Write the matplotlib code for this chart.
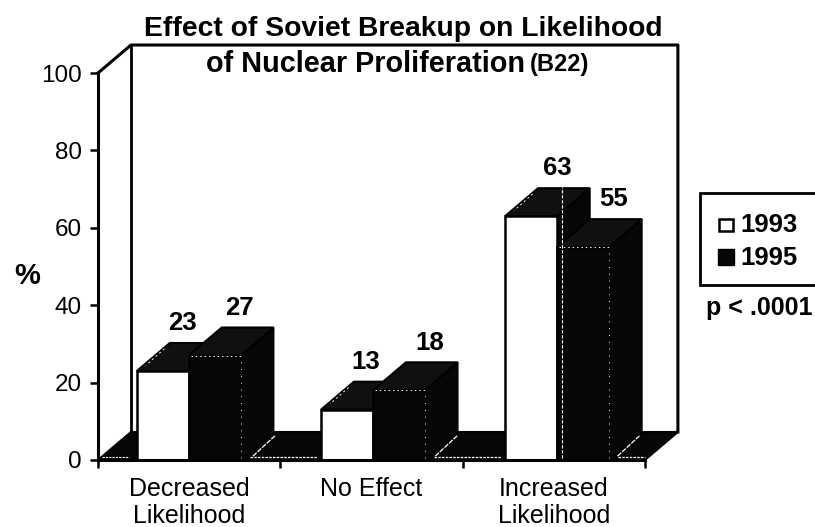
import numpy as np
import matplotlib
matplotlib.use('Agg')
import matplotlib.pyplot as plt
from matplotlib.patches import Polygon, Rectangle

categories = ['Decreased\nLikelihood', 'No Effect', 'Increased\nLikelihood']
values_1993 = [23, 13, 63]
values_1995 = [27, 18, 55]
yticks = [0, 20, 40, 60, 80, 100]

plt.rcParams['font.family'] = ['Liberation Sans', 'DejaVu Sans']

# one x unit = one category slot, one y unit = 1 %
px_x = 182.3
px_y = 3.87
depth_x = 33 / px_x
depth_y = 28 / px_y
bar_w = 0.285
bar_off = 0.213
dark = '#060606'
# label nudges, the originals were placed by hand
nudge_1993 = [0.11, 0.105, 0.145]
nudge_1995 = [0.135, 0.17, 0.17]

fig = plt.figure(figsize=(8.15, 5.27), dpi=100)
ax = fig.add_axes([0, 0, 1, 1])
ax.set_xlim(-98 / px_x, (815 - 98) / px_x)
ax.set_ylim((460 - 527) / px_y, 460 / px_y)
ax.patch.set_visible(False)


def bar3d(x, h, front):
    # side and top first, then the front face
    ax.add_patch(Polygon([(x + bar_w, 0), (x + bar_w + depth_x, depth_y),
                          (x + bar_w + depth_x, h + depth_y), (x + bar_w, h)],
                         fc=dark, ec='black', lw=1, zorder=3))
    ax.add_patch(Polygon([(x, h), (x + bar_w, h), (x + bar_w + depth_x, h + depth_y),
                          (x + depth_x, h + depth_y)],
                         fc='#101010', ec='black', lw=1.5, zorder=3))
    ax.add_patch(Rectangle((x, 0), bar_w, h, fc=front, ec='black', lw=1.8, zorder=3))


# back wall and floor
ax.plot([0, depth_x, 3 + depth_x, 3 + depth_x], [100, 100 + depth_y, 100 + depth_y, depth_y],
        color='black', lw=2.2, zorder=2)
ax.plot([depth_x, depth_x], [100 + depth_y, depth_y], color='black', lw=2, zorder=2)
ax.add_patch(Polygon([(0, 0), (3, 0), (3 + depth_x, depth_y), (depth_x, depth_y)],
                     fc=dark, ec='black', lw=1.5, zorder=2))

for i in range(3):
    x = i + bar_off + (0.01 * i)
    # 1993 first, the dark 1995 front covers its side
    bar3d(x, values_1993[i], 'white')
    bar3d(x + bar_w, values_1995[i], dark)
    ax.text(x + 0.5 * bar_w + nudge_1993[i], values_1993[i] + depth_y + 2.0, str(values_1993[i]),
            ha='center', va='bottom', fontsize=18.5, fontweight='bold', zorder=5)
    ax.text(x + 1.5 * bar_w + nudge_1995[i], values_1995[i] + depth_y + 2.0, str(values_1995[i]),
            ha='center', va='bottom', fontsize=18.5, fontweight='bold', zorder=5)
    # scanner dropouts along the hidden edges
    ax.plot([x + bar_w + 0.01, x + 2 * bar_w], [values_1995[i], values_1995[i]],
            color='white', lw=0.7, ls=(0, (1.5, 3)), zorder=4)
    ax.plot([x + 2 * bar_w, x + 2 * bar_w], [0.5, values_1995[i]],
            color='white', lw=0.7, ls=(0, (1, 6)), zorder=4)
    ax.plot([x + depth_x - 0.03, x + 0.05], [values_1993[i] + depth_y - 1.5, values_1993[i] + 1.5],
            color='white', lw=0.7, ls=(0, (2, 3)), zorder=4)
    ax.plot([x + 2 * bar_w + 0.05, min(x + 2 * bar_w + 0.42, 3)], [0.8, 0.8],
            color='white', lw=0.9, ls=(0, (2, 1)), zorder=4)
    ax.plot([i + 1 - 0.15, i + 1 - 0.03], [1, depth_y - 1],
            color='white', lw=0.9, ls=(0, (4, 1)), zorder=4)

# vertical dropout through the tall 1995 bar
ax.plot([2.545, 2.545], [0.5, 70.5], color='white', lw=0.8, ls=(0, (3, 1.5)), zorder=4)
ax.plot([0.02, depth_x - 0.01], [0.8, 0.8], color='white', lw=0.8, ls=(0, (2, 1)), zorder=4)

# axes
for s in ['top', 'right']:
    ax.spines[s].set_visible(False)
ax.spines['left'].set_bounds(0, 100)
ax.spines['bottom'].set_bounds(0, 3)
ax.spines['left'].set_position(('data', 0))
ax.spines['bottom'].set_position(('data', 0))
ax.spines['left'].set_linewidth(2.2)
ax.spines['bottom'].set_linewidth(2.2)
ax.spines['left'].set_zorder(6)
ax.spines['bottom'].set_zorder(6)
ax.set_yticks(yticks)
ax.tick_params(axis='y', length=6, width=1.8, labelsize=17.5, pad=5.5)
ax.set_xticks([0, 1, 2, 3])
ax.set_xticklabels([])
ax.tick_params(axis='x', length=6, width=1.8)
ax.set_xticks([0.5, 1.5, 2.5], labels=categories, minor=True)
ax.tick_params(axis='x', which='minor', length=0, labelsize=18, pad=12.5)
for lab in ax.get_xticklabels(minor=True):
    lab.set_linespacing(1.12)

ax.text(-71 / px_x, (460 - 276) / px_y, '%', ha='center', va='center', fontsize=21, fontweight='bold')

# title
ax.text((403 - 98) / px_x, (460 - 29) / px_y, 'Effect of Soviet Breakup on Likelihood',
        ha='center', va='center', fontsize=20.3, fontweight='bold', zorder=7)
ax.text((525 - 98) / px_x, (460 - 64) / px_y, 'of Nuclear Proliferation', ha='right', va='center',
        fontsize=20.8, fontweight='bold', zorder=7)
ax.text((530 - 98) / px_x, (460 - 64) / px_y, '(B22)', ha='left', va='center',
        fontsize=17, fontweight='bold', zorder=7)

# legend box runs off the right edge of the page
ax.add_patch(Rectangle(((700 - 98) / px_x, (460 - 285) / px_y), 130 / px_x, 92 / px_y,
                       fc='white', ec='black', lw=2, zorder=5))
ax.add_patch(Rectangle(((719 - 98) / px_x, (460 - 231) / px_y), 14 / px_x, 12 / px_y,
                       fc='white', ec='black', lw=1.8, zorder=6))
ax.add_patch(Rectangle(((718 - 98) / px_x, (460 - 265) / px_y), 16 / px_x, 16 / px_y,
                       fc=dark, ec='black', lw=1, zorder=6))
ax.text((740 - 98) / px_x, (460 - 225) / px_y, '1993', ha='left', va='center',
        fontsize=18.5, fontweight='bold', zorder=6)
ax.text((740 - 98) / px_x, (460 - 258) / px_y, '1995', ha='left', va='center',
        fontsize=18.5, fontweight='bold', zorder=6)
ax.text((706 - 98) / px_x, (460 - 308) / px_y, 'p < .0001', ha='left', va='center',
        fontsize=18, fontweight='bold', zorder=6)

fig.savefig('out.png', dpi=100)
